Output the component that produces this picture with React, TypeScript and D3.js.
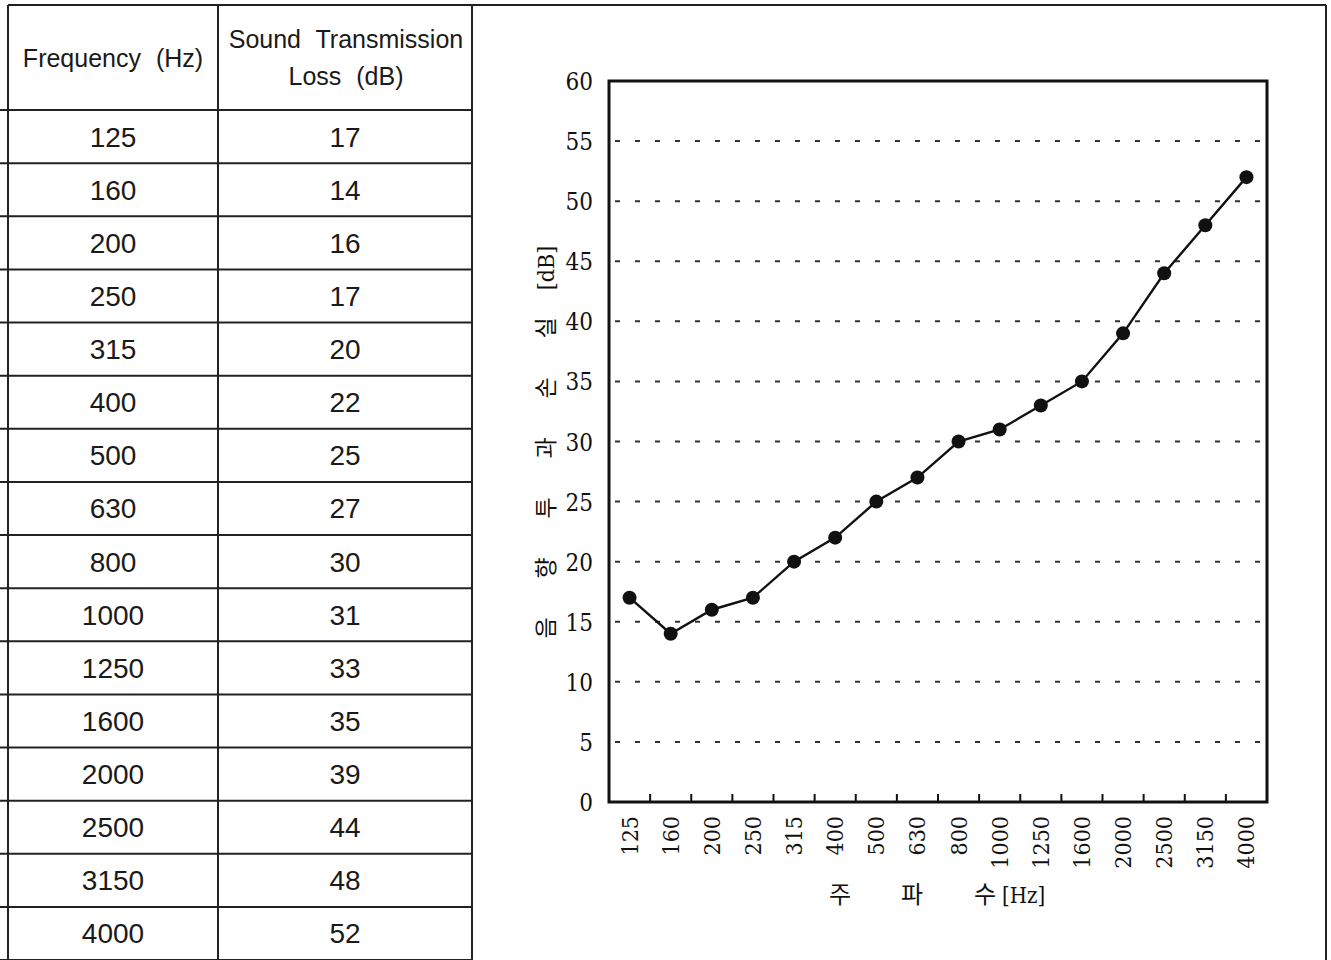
import React, { useEffect, useRef } from "react";
import * as d3 from "d3";

const frequencies = ["125", "160", "200", "250", "315", "400", "500", "630", "800", "1000", "1250", "1600", "2000", "2500", "3150", "4000"];
const lossValues = [17, 14, 16, 17, 20, 22, 25, 27, 30, 31, 33, 35, 39, 44, 48, 52];
const yTicks = [0, 5, 10, 15, 20, 25, 30, 35, 40, 45, 50, 55, 60];
const headerCol1 = ["Frequency (Hz)"];
const headerCol2 = ["Sound Transmission", "Loss (dB)"];
const xTitleChars = ["주", "파", "수"];
const xTitleUnit = "[Hz]";
const yTitleChars = ["음", "향", "투", "과", "손", "실", "[dB]"];

export default function App() {
  const ref = useRef<SVGSVGElement>(null);

  useEffect(() => {
    const svg = d3.select(ref.current);
    svg.selectAll("*").remove();
    const H = 960;

    // ---- table ----
    const tLeft = 8, c1 = 218, c2 = 472, tTop = 5, headBottom = 110;
    const rowH = (960 - headBottom) / frequencies.length;
    const tg = svg.append("g");
    tg.append("line").attr("x1", tLeft).attr("x2", 1326).attr("y1", tTop).attr("y2", tTop)
      .attr("stroke", "#222").attr("stroke-width", 2);
    tg.append("line").attr("x1", 1326).attr("x2", 1326).attr("y1", tTop).attr("y2", H)
      .attr("stroke", "#222").attr("stroke-width", 2);
    [tLeft, c1, c2].forEach((x) =>
      tg.append("line").attr("x1", x).attr("x2", x).attr("y1", tTop).attr("y2", H)
        .attr("stroke", "#222").attr("stroke-width", 2));
    const rowY = d3.range(frequencies.length + 1).map((i) => headBottom + i * rowH);
    rowY.forEach((y) =>
      tg.append("line").attr("x1", tLeft - 8).attr("x2", c2).attr("y1", y).attr("y2", y)
        .attr("stroke", "#222").attr("stroke-width", 2));

    const sans = "'Liberation Sans', Arial, sans-serif";
    tg.append("text").attr("x", (tLeft + c1) / 2).attr("y", 67).attr("text-anchor", "middle")
      .attr("font-family", sans).attr("font-size", 25).attr("word-spacing", 8).attr("fill", "#1a1a1a").text(headerCol1[0]);
    headerCol2.forEach((t, i) =>
      tg.append("text").attr("x", (c1 + c2) / 2 + 1).attr("y", 48 + i * 37).attr("text-anchor", "middle")
        .attr("font-family", sans).attr("font-size", 25).attr("word-spacing", 8).attr("fill", "#1a1a1a").text(t));
    frequencies.forEach((f, i) => {
      const cy = headBottom + i * rowH + rowH / 2 + 10;
      tg.append("text").attr("x", (tLeft + c1) / 2).attr("y", cy).attr("text-anchor", "middle")
        .attr("font-family", sans).attr("font-size", 28).attr("fill", "#1a1a1a").text(f);
      tg.append("text").attr("x", (c1 + c2) / 2).attr("y", cy).attr("text-anchor", "middle")
        .attr("font-family", sans).attr("font-size", 28).attr("fill", "#1a1a1a").text(String(lossValues[i]));
    });

    // ---- chart ----
    const pl = 609, pr = 1267, pt = 81, pb = 802;
    const x = d3.scaleBand<string>().domain(frequencies).range([pl, pr]).padding(0);
    const y = d3.scaleLinear().domain([0, 60]).range([pb, pt]);
    const cg = svg.append("g");
    const serif = "'DejaVu Serif', 'Liberation Serif', serif";
    const kr = "'Noto Sans CJK KR', sans-serif";

    yTicks.filter((t) => t > 0 && t < 60).forEach((t) =>
      cg.append("line").attr("x1", pl + 6).attr("x2", pr - 4).attr("y1", y(t)).attr("y2", y(t))
        .attr("stroke", "#333").attr("stroke-width", 2).attr("stroke-dasharray", "5,15"));

    cg.append("rect").attr("x", pl).attr("y", pt).attr("width", pr - pl).attr("height", pb - pt)
      .attr("fill", "none").attr("stroke", "#111").attr("stroke-width", 3);

    frequencies.slice(1).forEach((f) => {
      const xx = x(f)!;
      cg.append("line").attr("x1", xx).attr("x2", xx).attr("y1", pb).attr("y2", pb - 8)
        .attr("stroke", "#111").attr("stroke-width", 2);
    });

    yTicks.forEach((t) =>
      cg.append("text").attr("x", 593).attr("y", y(t) + 9).attr("text-anchor", "end")
        .attr("font-family", serif).attr("font-stretch", "condensed").attr("font-size", 24)
        .attr("fill", "#111").text(String(t)));

    frequencies.forEach((f) => {
      const cx = x(f)! + x.bandwidth() / 2;
      cg.append("text").attr("transform", `translate(${cx + 8},816) rotate(-90)`)
        .attr("text-anchor", "end").attr("font-family", serif).attr("font-stretch", "condensed")
        .attr("font-size", 23).attr("fill", "#111").text(f);
    });

    const xTitlePos = [840, 912, 985];
    xTitleChars.forEach((c, i) =>
      cg.append("text").attr("x", xTitlePos[i]).attr("y", 903).attr("text-anchor", "middle")
        .attr("font-family", kr).attr("font-size", 24).attr("fill", "#111").text(c));
    cg.append("text").attr("x", 1002).attr("y", 903).attr("text-anchor", "start")
      .attr("font-family", serif).attr("font-stretch", "condensed").attr("font-size", 22)
      .attr("fill", "#111").text(xTitleUnit);

    const yt = cg.append("g").attr("transform", "translate(554,0) rotate(-90)");
    yTitleChars.forEach((c, i) => {
      yt.append("text").attr("x", -628 + i * 60).attr("y", 0).attr("text-anchor", "middle")
        .attr("font-family", i === yTitleChars.length - 1 ? serif : kr)
        .attr("font-stretch", "condensed").attr("font-size", 23)
        .attr("fill", "#111").text(c);
    });

    const pts = frequencies.map((f, i) => [x(f)! + x.bandwidth() / 2, y(lossValues[i])] as [number, number]);
    cg.append("path").attr("d", d3.line()(pts)!).attr("fill", "none")
      .attr("stroke", "#111").attr("stroke-width", 2.4);
    pts.forEach(([px, py]) =>
      cg.append("circle").attr("cx", px).attr("cy", py).attr("r", 7).attr("fill", "#111"));
  }, []);

  return (
    <svg ref={ref} width={1331} height={960}
      style={{ position: "absolute", left: 0, top: 0, background: "#fff" }} />
  );
}
